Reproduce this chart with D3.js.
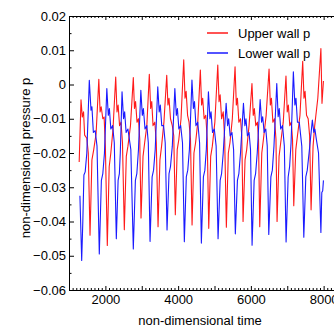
<!DOCTYPE html>
<html>
<head>
<meta charset="utf-8">
<script src="https://cdn.jsdelivr.net/npm/d3@7"></script>
<style>
  body { margin: 0; background: #fff; }
  svg { display: block; font-family: "Liberation Sans", Arial, sans-serif; }
  .axis path, .axis line { stroke: #000; }
  .axis text { font-size: 13px; fill: #000; }
</style>
</head>
<body>
<div id="chart"></div>
<script>
// values, [time, p]
const upperWall = [
  [1280,-0.0226],[1330,-0.0045],[1365,-0.0095],[1400,-0.008],[1430,-0.0148],[1490,-0.0157],[1530,-0.020],
  [1578,-0.044],[1630,-0.022],[1680,-0.019],[1745,-0.0143],
  [1820,0.0015],[1855,-0.008],[1885,-0.0065],[1930,-0.010],[1965,-0.0095],[2000,-0.018],
  [2053,-0.047],[2105,-0.024],[2150,-0.020],[2210,-0.013],
  [2284,0.0022],[2320,-0.008],[2350,-0.006],[2390,-0.012],[2430,-0.011],[2470,-0.017],
  [2521,-0.0424],[2575,-0.021],[2620,-0.018],[2690,-0.012],
  [2768,0.002],[2800,-0.007],[2830,-0.005],[2870,-0.011],[2910,-0.010],[2945,-0.016],
  [2980,-0.039],[3035,-0.021],[3080,-0.017],[3140,-0.012],
  [3208,0.003],[3245,-0.007],[3275,-0.005],[3310,-0.012],[3360,-0.011],[3400,-0.017],
  [3448,-0.0415],[3500,-0.022],[3545,-0.018],[3610,-0.011],
  [3687,0.0027],[3720,-0.006],[3750,-0.004],[3790,-0.010],[3840,-0.012],[3880,-0.015],
  [3923,-0.038],[3975,-0.019],[4020,-0.016],[4080,-0.010],
  [4154,0.0072],[4190,-0.004],[4220,-0.002],[4260,-0.009],[4300,-0.011],[4340,-0.016],
  [4383,-0.041],[4435,-0.020],[4480,-0.017],[4540,-0.011],
  [4611,0.0042],[4645,-0.006],[4675,-0.004],[4715,-0.010],[4760,-0.009],[4800,-0.016],
  [4842,-0.042],[4895,-0.021],[4940,-0.018],[5010,-0.011],
  [5090,0.0057],[5125,-0.005],[5155,-0.003],[5195,-0.010],[5240,-0.008],[5280,-0.016],
  [5326,-0.0417],[5380,-0.020],[5425,-0.017],[5490,-0.010],
  [5565,0.0052],[5600,-0.006],[5630,-0.004],[5670,-0.011],[5715,-0.010],[5750,-0.015],
  [5785,-0.040],[5840,-0.022],[5885,-0.019],[5950,-0.012],
  [6030,0.0003],[6065,-0.009],[6095,-0.007],[6135,-0.012],[6180,-0.011],[6210,-0.016],
  [6244,-0.0415],[6300,-0.020],[6345,-0.016],[6420,-0.009],
  [6500,0.0045],[6535,-0.006],[6565,-0.004],[6605,-0.011],[6650,-0.010],[6690,-0.016],
  [6720,-0.040],[6775,-0.021],[6820,-0.017],[6890,-0.011],
  [6965,0.0025],[7000,-0.008],[7030,-0.006],[7070,-0.012],[7110,-0.011],[7145,-0.016],
  [7179,-0.0354],[7235,-0.019],[7280,-0.015],[7350,-0.009],
  [7425,0.0068],[7460,-0.004],[7490,-0.002],[7530,-0.009],[7575,-0.010],[7615,-0.015],
  [7655,-0.0366],[7710,-0.018],[7755,-0.012],[7840,-0.004],
  [7925,0.0105],[7955,-0.0055],[7995,0.001]
];

const lowerWall = [
  [1300,-0.0325],[1349,-0.0514],[1380,-0.040],[1410,-0.0264],[1445,-0.0255],[1490,-0.020],
  [1558,0.0012],[1605,-0.0075],[1630,-0.0065],[1670,-0.014],[1720,-0.0135],[1770,-0.018],
  [1833,-0.0495],[1890,-0.028],[1930,-0.026],[1975,-0.020],
  [2040,-0.0012],[2080,-0.009],[2110,-0.007],[2150,-0.013],[2200,-0.012],[2245,-0.017],
  [2301,-0.045],[2350,-0.028],[2385,-0.026],[2410,-0.020],
  [2458,-0.0021],[2500,-0.010],[2530,-0.008],[2570,-0.014],[2620,-0.013],[2700,-0.019],
  [2768,-0.048],[2825,-0.028],[2865,-0.026],[2910,-0.019],
  [2975,-0.0017],[3015,-0.009],[3045,-0.007],[3090,-0.013],[3140,-0.012],[3180,-0.017],
  [3228,-0.0458],[3285,-0.027],[3325,-0.025],[3370,-0.019],
  [3440,-0.0007],[3480,-0.008],[3510,-0.006],[3550,-0.012],[3600,-0.012],[3645,-0.017],
  [3695,-0.0425],[3750,-0.026],[3790,-0.024],[3840,-0.018],
  [3910,-0.0012],[3950,-0.009],[3980,-0.007],[4020,-0.013],[4070,-0.012],[4120,-0.017],
  [4171,-0.0459],[4225,-0.027],[4265,-0.025],[4310,-0.019],
  [4380,0.0013],[4420,-0.007],[4450,-0.005],[4490,-0.012],[4540,-0.011],[4590,-0.017],
  [4639,-0.0463],[4695,-0.027],[4735,-0.025],[4775,-0.019],
  [4833,-0.0021],[4875,-0.010],[4905,-0.008],[4945,-0.014],[4995,-0.013],[5045,-0.018],
  [5098,-0.045],[5155,-0.028],[5195,-0.026],[5240,-0.020],
  [5320,-0.0055],[5360,-0.012],[5390,-0.010],[5430,-0.015],[5480,-0.014],[5525,-0.019],
  [5573,-0.0436],[5630,-0.028],[5670,-0.026],[5715,-0.020],
  [5796,-0.0055],[5835,-0.012],[5865,-0.010],[5905,-0.015],[5950,-0.014],[5990,-0.019],
  [6033,-0.0469],[6090,-0.028],[6130,-0.026],[6175,-0.020],
  [6255,-0.0044],[6295,-0.011],[6325,-0.0094],[6365,-0.014],[6410,-0.013],[6450,-0.018],
  [6492,-0.0438],[6550,-0.027],[6590,-0.025],[6635,-0.018],
  [6712,0.0003],[6750,-0.0094],[6780,-0.007],[6820,-0.013],[6870,-0.012],[6920,-0.018],
  [6968,-0.046],[7025,-0.027],[7065,-0.024],[7105,-0.017],
  [7168,0.0037],[7210,-0.006],[7240,-0.004],[7280,-0.011],[7330,-0.011],[7400,-0.018],
  [7455,-0.0446],[7510,-0.027],[7550,-0.025],[7600,-0.020],
  [7690,-0.0104],[7730,-0.014],[7760,-0.013],[7800,-0.016],[7860,-0.020],
  [7925,-0.0432],[7950,-0.0315],[7975,-0.031],[7995,-0.028]
];

const xMajor = [1000, 2000, 3000, 4000, 5000, 6000, 7000, 8000, 9000];
const xLabels = [2000, 4000, 6000, 8000];
const yMajor = [0.02, 0.01, 0, -0.01, -0.02, -0.03, -0.04, -0.05, -0.06];
const seriesNames = ["Upper wall p", "Lower wall p"];
const seriesColors = ["#ff1a1a", "#1a1aff"];

const W = 334, H = 327;
const x = d3.scaleLinear().domain([1000, 9000]).range([69, 360]);
const y = d3.scaleLinear().domain([-0.06, 0.02]).range([290, 16]);

const svg = d3.select("#chart").append("svg")
  .attr("width", W).attr("height", H);

const clip = svg.append("clipPath").attr("id", "clip")
  .append("rect").attr("x", 69).attr("y", 16).attr("width", 291).attr("height", 274);

const line = d3.line().x(d => x(d[0])).y(d => y(d[1]));

const lines = svg.append("g").attr("clip-path", "url(#clip)");
[upperWall, lowerWall].forEach((s, i) => {
  lines.append("path")
    .datum(s)
    .attr("fill", "none")
    .attr("stroke", seriesColors[i])
    .attr("stroke-width", 1.1)
    .attr("stroke-linejoin", "round")
    .attr("d", line);
});

// minor ticks every 100 on x, every 0.005 on y
const xMinor = d3.range(1000, 9001, 100).filter(v => v % 1000 !== 0);
const yMinor = d3.range(-0.055, 0.02, 0.01);

function fmtY(d) { return Math.abs(d) < 1e-9 ? "0" : d3.format(".2f")(d); }

// bottom axis
svg.append("g").attr("class", "axis")
  .attr("transform", "translate(0,290)")
  .call(d3.axisBottom(x).tickValues(xMinor).tickSize(-2).tickFormat("").tickSizeOuter(0));
svg.append("g").attr("class", "axis")
  .attr("transform", "translate(0,290)")
  .call(d3.axisBottom(x).tickValues(xMajor).tickSize(-4).tickSizeOuter(0)
    .tickPadding(5).tickFormat(d => xLabels.includes(d) ? d : ""));

// top axis
svg.append("g").attr("class", "axis")
  .attr("transform", "translate(0,16)")
  .call(d3.axisTop(x).tickValues(xMinor).tickSize(-2).tickFormat("").tickSizeOuter(0));
svg.append("g").attr("class", "axis")
  .attr("transform", "translate(0,16)")
  .call(d3.axisTop(x).tickValues(xMajor).tickSize(-4).tickFormat("").tickSizeOuter(0));

// left axis
svg.append("g").attr("class", "axis")
  .attr("transform", "translate(69,0)")
  .call(d3.axisLeft(y).tickValues(yMinor).tickSize(-2.5).tickFormat("").tickSizeOuter(0));
svg.append("g").attr("class", "axis")
  .attr("transform", "translate(69,0)")
  .call(d3.axisLeft(y).tickValues(yMajor).tickSize(-5).tickSizeOuter(0)
    .tickPadding(3).tickFormat(fmtY));

svg.selectAll(".axis .domain").attr("stroke-width", 1);

// axis titles
svg.append("text")
  .attr("x", 200).attr("y", 325)
  .attr("text-anchor", "middle")
  .attr("font-size", "13px")
  .text("non-dimensional time");

svg.append("text")
  .attr("transform", "translate(30,158) rotate(-90)")
  .attr("text-anchor", "middle")
  .attr("font-size", "13px")
  .text("non-dimensional pressure p");

// legend
const legend = svg.append("g");
seriesNames.forEach((name, i) => {
  const ly = 33 + i * 20;
  legend.append("line")
    .attr("x1", 207).attr("x2", 228)
    .attr("y1", ly).attr("y2", ly)
    .attr("stroke", seriesColors[i]).attr("stroke-width", 1.5);
  legend.append("text")
    .attr("x", 238).attr("y", ly + 4.5)
    .attr("font-size", "13px")
    .text(name);
});
</script>
</body>
</html>
